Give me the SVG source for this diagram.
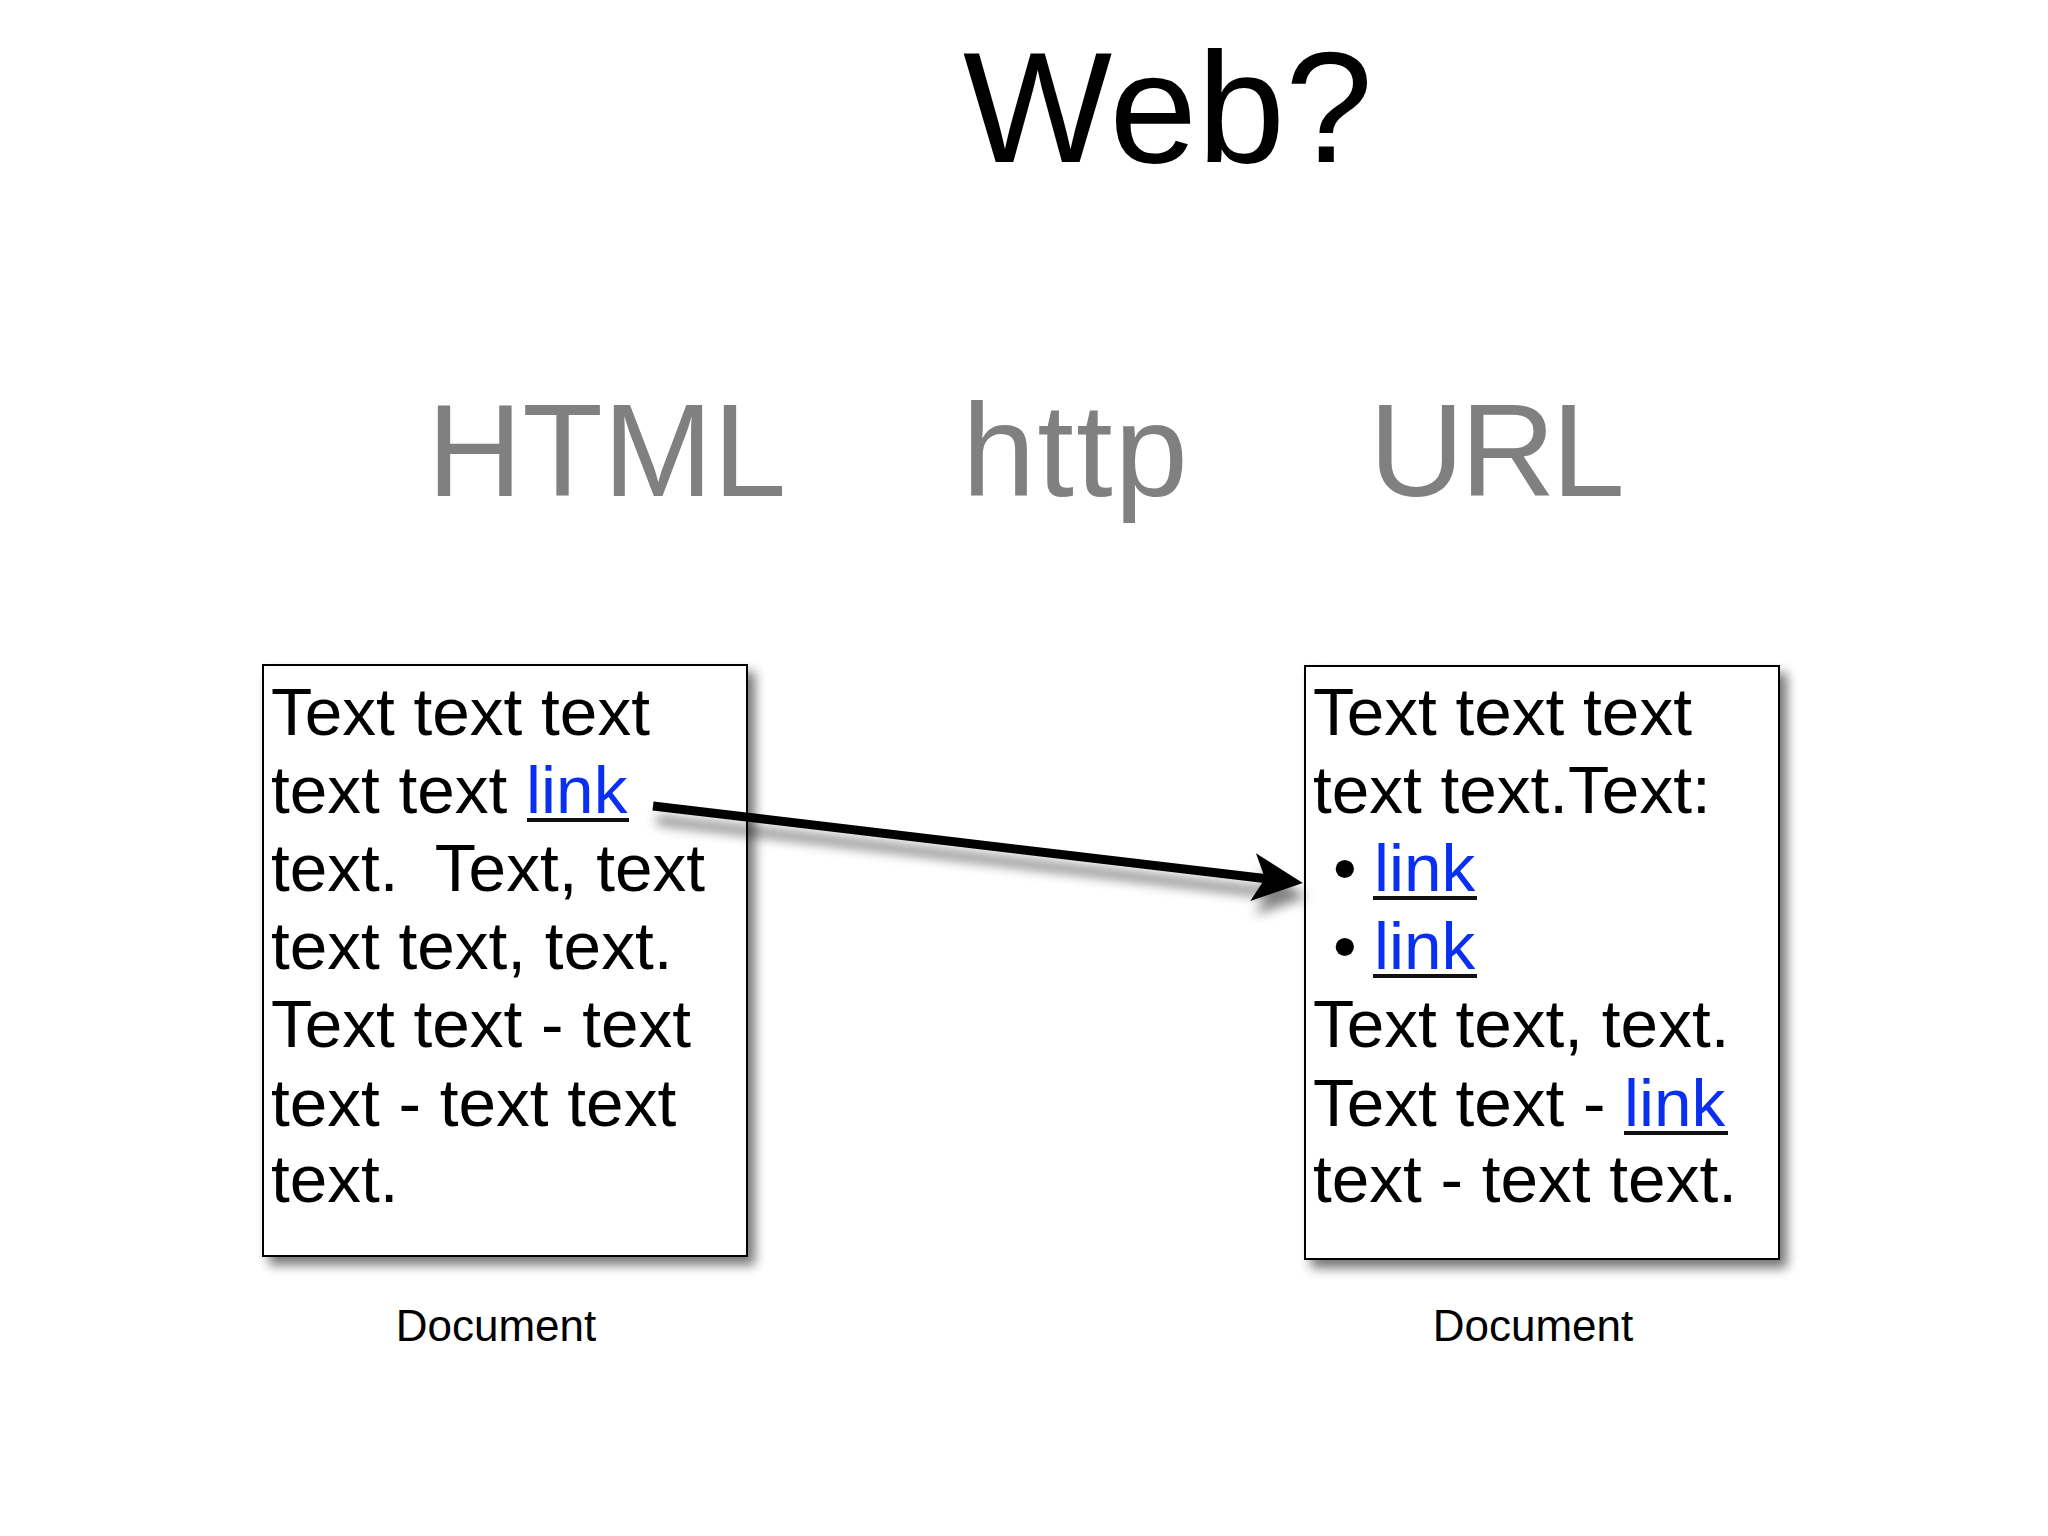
<svg xmlns="http://www.w3.org/2000/svg" width="2048" height="1536" viewBox="0 0 2048 1536">
<defs>
<filter id="shadow" x="-10%" y="-10%" width="130%" height="130%">
<feGaussianBlur in="SourceAlpha" stdDeviation="6"/>
<feOffset dx="7" dy="8" result="b"/>
<feComponentTransfer><feFuncA type="linear" slope="0.55"/></feComponentTransfer>
<feMerge><feMergeNode/><feMergeNode in="SourceGraphic"/></feMerge>
</filter>
<filter id="ashadow" x="-10%" y="-50%" width="120%" height="300%">
<feGaussianBlur in="SourceAlpha" stdDeviation="6"/>
<feOffset dx="4" dy="14" result="b"/>
<feComponentTransfer><feFuncA type="linear" slope="0.5"/></feComponentTransfer>
<feMerge><feMergeNode/><feMergeNode in="SourceGraphic"/></feMerge>
</filter>
<marker id="head" markerUnits="userSpaceOnUse" markerWidth="80" markerHeight="80" refX="0" refY="0" viewBox="-40 -40 80 80" orient="auto" overflow="visible">
<path d="M30,0 L-20,-24 L-8,0 L-20,24 Z" fill="#000"/>
</marker>
</defs>
<style>
.title{font-family:"Liberation Sans",Arial,sans-serif;font-size:158px;fill:#000}
.topic{font-family:"Liberation Sans",Arial,sans-serif;font-size:132px;fill:#808080}
.body{font-family:"Liberation Sans",Arial,sans-serif;font-size:67.5px;fill:#000;white-space:pre}
.link{fill:#0b2ff0}
.ul{stroke:#111;stroke-width:4}
.box{fill:#fff;stroke:#000;stroke-width:2}
.cap{font-family:"Liberation Sans",Arial,sans-serif;font-size:44px;fill:#000;text-anchor:middle}
</style>
<rect width="2048" height="1536" fill="#fff"/>
<text class="title" x="963" y="162">Web?</text>
<text class="topic" x="427" y="496">HTML</text>
<text class="topic" x="962" y="496" textLength="226">http</text>
<text class="topic" x="1369" y="496" textLength="256">URL</text>

<g id="doc1">
<rect class="box" x="263" y="665" width="484" height="591" filter="url(#shadow)"/>
<text class="body" x="271" y="735">Text text text</text>
<text class="body" x="271" y="813">text text <tspan class="link">link</tspan></text>
<line class="ul" x1="527" y1="820" x2="629" y2="820"/>
<text class="body" x="271" y="891">text.  Text, text</text>
<text class="body" x="271" y="969">text text, text.</text>
<text class="body" x="271" y="1047">Text text - text</text>
<text class="body" x="271" y="1126">text - text text</text>
<text class="body" x="271" y="1202">text.</text>
<text class="cap" x="496" y="1341">Document</text>
</g>

<g id="doc2">
<rect class="box" x="1305" y="666" width="474" height="593" filter="url(#shadow)"/>
<text class="body" x="1313" y="735">Text text text</text>
<text class="body" x="1313" y="813">text text.Text:</text>
<text class="body" x="1333" y="891">• <tspan class="link" x="1374">link</tspan></text>
<line class="ul" x1="1373" y1="898" x2="1477" y2="898"/>
<text class="body" x="1333" y="969">• <tspan class="link" x="1374">link</tspan></text>
<line class="ul" x1="1373" y1="976" x2="1477" y2="976"/>
<text class="body" x="1313" y="1047">Text text, text.</text>
<text class="body" x="1313" y="1126">Text text - <tspan class="link" x="1624">link</tspan></text>
<line class="ul" x1="1624" y1="1133" x2="1728" y2="1133"/>
<text class="body" x="1313" y="1202">text - text text.</text>
<text class="cap" x="1533" y="1341">Document</text>
</g>

<g id="connectors">
<line x1="653" y1="806" x2="1273" y2="879.5" stroke="#000" stroke-width="9" marker-end="url(#head)" filter="url(#ashadow)"/>
</g>
</svg>
